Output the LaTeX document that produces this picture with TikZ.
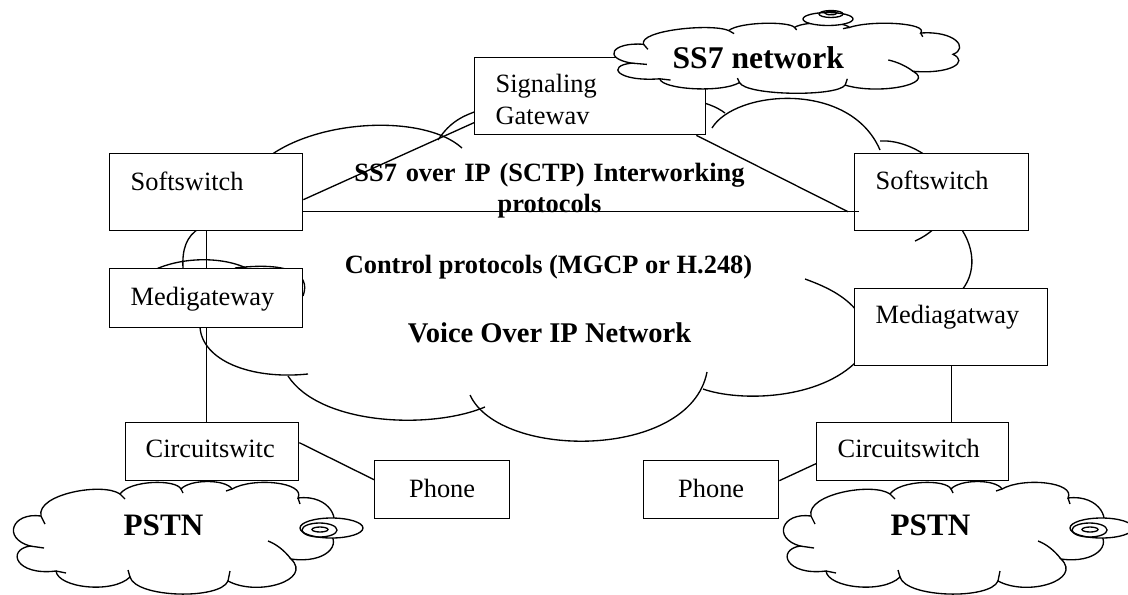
\documentclass[tikz,border=0pt]{standalone}
\usepackage{fontspec}
\setmainfont{Liberation Serif}
\usetikzlibrary{calc}

\tikzset{
	box/.style={draw, fill=white, anchor=north west, align=left, inner xsep=15.75pt, inner ysep=0pt, font=\fontsize{19.8}{23.5}\selectfont},
	lbl/.style={inner sep=0pt, align=center, font=\fontsize{19.8}{23.5}\selectfont\bfseries},
	bigname/.style={inner sep=0pt, anchor=base west, font=\fontsize{23.4}{27}\selectfont\bfseries},
	wordcloud/.pic={
		\draw [fill=white] (33,34) .. controls (28,12) and (95,0) .. (112,12)
			.. controls (122,-2) and (168,-3) .. (173,7)
			.. controls (182,-3) and (218,-3) .. (224,7)
			.. controls (245,-5) and (298,0) .. (290,16)
			.. controls (322,12) and (335,40) .. (320,50)
			.. controls (335,62) and (318,82) .. (283,77)
			.. controls (305,98) and (250,115) .. (220,99)
			.. controls (212,118) and (128,116) .. (122,95)
			.. controls (105,112) and (50,106) .. (48,89)
			.. controls (8,94) and (-2,68) .. (22,64)
			.. controls (-6,56) and (4,30) .. (33,34) -- cycle;
		\draw [] (33,34) -- (37,42);
		\draw [] (112,12) -- (117,17);
		\draw [] (173,7) -- (175,11);
		\draw [] (224,7) -- (218,9);
		\draw [] (290,16) -- (292,22);
		\draw [] (283,77) .. controls (276,68) and (268,62) .. (260,59);
		\draw [] (220,99) -- (222,89);
		\draw [] (122,95) -- (120,88);
		\draw [] (48,89) -- (58,91);
		\draw [] (22,64) -- (36,66);
	}
}

\begin{document}
\begin{tikzpicture}[x=0.75pt, y=-0.75pt, line width=1pt]
	\useasboundingbox (0,0) rectangle (1128,594);

	\draw [] (250,175) .. controls (290,120) and (420,110) .. (462,148);
	\draw [] (438,140) .. controls (450,122) and (462,116) .. (480,110);
	\draw [] (690,100) .. controls (705,102) and (717,107) .. (725,113);
	\draw [] (712,128) .. controls (735,90) and (850,80) .. (880,150);
	\draw [] (880,141) .. controls (895,140) and (912,146) .. (925,155);
	\draw [] (950,215) .. controls (975,240) and (978,270) .. (962,290);
	\draw [] (915,241) .. controls (922,238) and (928,234) .. (935,228);
	\draw [] (805,279) .. controls (830,288) and (848,298) .. (860,315);
	\draw [] (703,389) .. controls (740,402) and (820,400) .. (858,360);
	\draw [] (470,395) .. controls (500,460) and (690,460) .. (707,372);
	\draw [] (288,376) .. controls (320,425) and (430,430) .. (485,407);
	\draw [] (200,327) .. controls (202,360) and (250,380) .. (308,374);
	\draw [] (200,228) .. controls (186,236) and (182,250) .. (183,268);
	\draw [] (150,272) .. controls (180,256) and (225,256) .. (250,270);
	\draw [] (235,268) .. controls (285,262) and (312,272) .. (303,296);

	\pic at (8,482) {wordcloud};
	\pic at (778,482) {wordcloud};
	\draw [fill=white] (331.5,528) ellipse [x radius=31.5, y radius=10];
	\draw [] (319.5,530) ellipse [x radius=17.5, y radius=7];
	\draw [] (320,529.5) ellipse [x radius=8, y radius=2.5];
	\draw [fill=white] (1101.5,528) ellipse [x radius=31.5, y radius=10];
	\draw [] (1089.5,530) ellipse [x radius=17.5, y radius=7];
	\draw [] (1090,529.5) ellipse [x radius=8, y radius=2.5];

	\node [box, text width=141.75pt, text height=26.25pt, text depth=31.5pt] (sg) at (474,57) {Signaling\\Gatewav};
	\node [box, text width=113.25pt, text height=27.75pt, text depth=30pt] (ssL) at (109,153) {Softswitch};
	\node [box, text width=113.25pt, text height=27.75pt, text depth=16.5pt] (mgL) at (109,268) {Medigateway};
	\node [box, text width=99pt, text height=27pt, text depth=30.75pt] (ssR) at (854,153) {Softswitch};
	\node [box, text width=113.25pt, text height=26.25pt, text depth=31.5pt] (mgR) at (854,288) {Mediagatway};
	\node [box, inner xsep=15pt, text width=99.75pt, text height=26.25pt, text depth=17.25pt] (csL) at (125,422) {Circuitswitc};
	\node [box, text width=112.5pt, text height=26.25pt, text depth=17.25pt] (csR) at (816,422) {Circuitswitch};
	\node [box, align=center, text width=69.75pt, text height=27.75pt, text depth=15.75pt] (phL) at (374,460) {Phone};
	\node [box, align=center, text width=69.75pt, text height=27.75pt, text depth=15.75pt] (phR) at (643,460) {Phone};

	\pic [xscale=1.078, yscale=0.627] at (608,23) {wordcloud};
	\draw [fill=white] (828,19) ellipse [x radius=25, y radius=6.5];
	\draw [] (831,14) ellipse [x radius=12, y radius=3.5];
	\draw [] (831,13) ellipse [x radius=6, y radius=1.8];

	\draw [] ($(ssL.east)+(0,7.5)$) -- ($(sg.west)+(0,26.5)$);
	\draw [] ($(ssL.east)+(0,19.5)$) -- ($(ssR.west)+(5,19.5)$);
	\draw [] ($(sg.south east)+(-10,0)$) -- ($(ssR.west)+(-6,19.5)$);
	\draw [] (ssL.south) -- (mgL.north);
	\draw [] (mgL.south) -- (mgL.south |- csL.north);
	\draw [] ($(ssR.south east)+(-39,0)$) -- ($(ssR.south east)+(-39,0)$ |- mgR.north);
	\draw [] (mgR.south) -- (mgR.south |- csR.north);
	\draw [] ($(csL.east)+(0,-9)$) -- ($(phL.west)+(0,-10)$);
	\draw [] ($(phR.east)+(0,-9)$) -- ($(csR.west)+(0,12)$);

	\node [lbl, text width=300pt, anchor=base] (sctp) at (549.5,181) {SS7 over IP (SCTP) Interworking\\protocols};
	\node [lbl, anchor=base] (ctrl) at (548.5,273) {Control protocols (MGCP or H.248)};
	\node [lbl, anchor=base, font=\fontsize{21.4}{25}\selectfont\bfseries] (voip) at (549.5,342) {Voice Over IP Network};
	\node [bigname, font=\fontsize{23.7}{27}\selectfont\bfseries] (ss7) at (672,68) {SS7 network};
	\node [bigname] (pstnL) at (123,535) {PSTN};
	\node [bigname] (pstnR) at (890,535) {PSTN};
\end{tikzpicture}
\end{document}
